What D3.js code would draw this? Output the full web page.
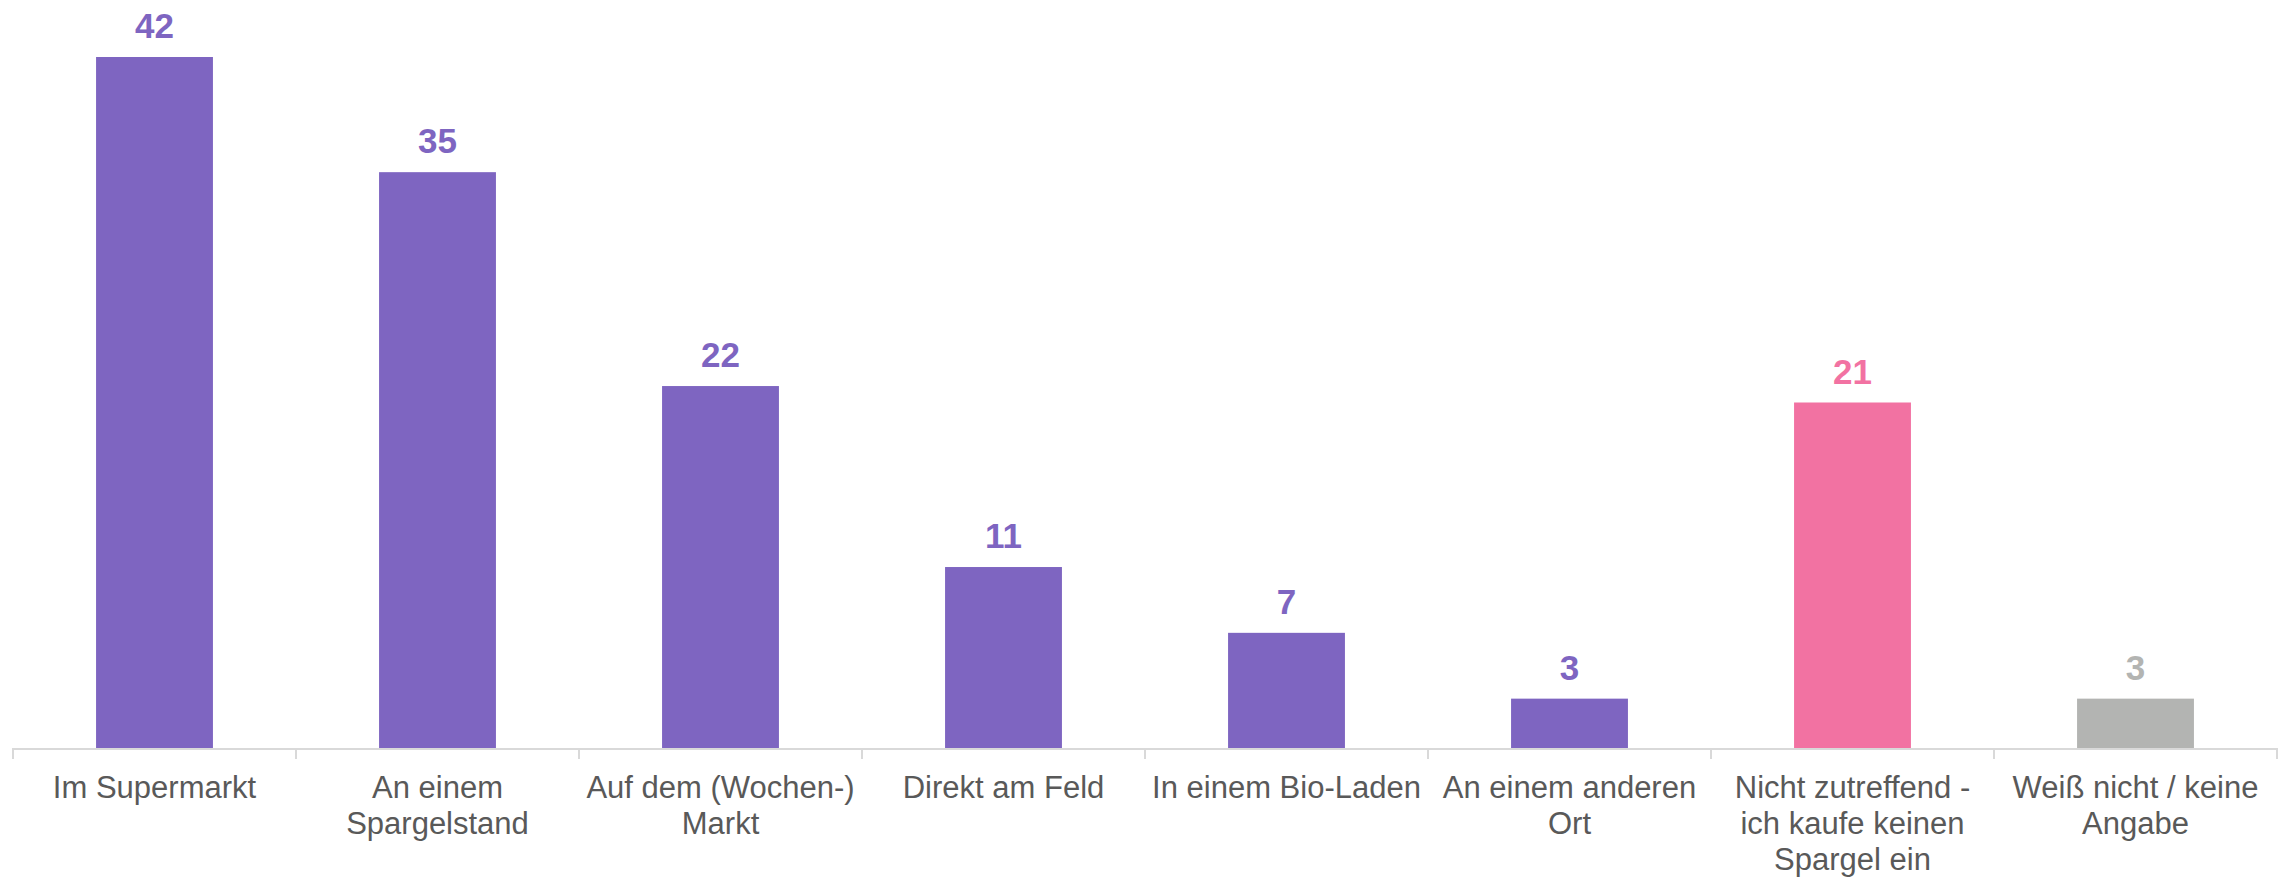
<!DOCTYPE html>
<html>
<head>
<meta charset="utf-8">
<script src="https://cdn.jsdelivr.net/npm/d3@7"></script>
<style>
  body { margin: 0; background: #fff; }
  svg text { font-family: "Liberation Sans", Arial, sans-serif; }
</style>
</head>
<body>
<div id="chart"></div>
<script>
// data
var categories = ["Im Supermarkt", "An einem Spargelstand", "Auf dem (Wochen-) Markt", "Direkt am Feld",
  "In einem Bio-Laden", "An einem anderen Ort", "Nicht zutreffend - ich kaufe keinen Spargel ein", "Weiß nicht / keine Angabe"];
var labelLines = [
  ["Im Supermarkt"],
  ["An einem", "Spargelstand"],
  ["Auf dem (Wochen-)", "Markt"],
  ["Direkt am Feld"],
  ["In einem Bio-Laden"],
  ["An einem anderen", "Ort"],
  ["Nicht zutreffend -", "ich kaufe keinen", "Spargel ein"],
  ["Weiß nicht / keine", "Angabe"]
];
var values = [42, 35, 22, 11, 7, 3, 21, 3];
var barColors = ["#7e65c1", "#7e65c1", "#7e65c1", "#7e65c1", "#7e65c1", "#7e65c1", "#f272a2", "#b3b4b2"];

var width = 2285, height = 878;
var margin = {top: 57, left: 13, right: 8, bottom: 130};

var svg = d3.select("#chart")
  .append("svg")
  .attr("width", width)
  .attr("height", height);

// x scale: one slot per category
var x = d3.scaleBand()
  .domain(categories)
  .range([margin.left, width - margin.right])
  .padding(0);

var y = d3.scaleLinear()
  .domain([0, 42])
  .range([height - margin.bottom, margin.top]);

var barW = x.bandwidth() * 0.413;

// bars
svg.selectAll("rect.bar")
  .data(values)
  .enter()
  .append("rect")
  .attr("class", "bar")
  .attr("x", (d, i) => x(categories[i]) + (x.bandwidth() - barW) / 2)
  .attr("y", d => y(d))
  .attr("width", barW)
  .attr("height", d => y(0) - y(d))
  .attr("fill", (d, i) => barColors[i]);

// value labels
svg.selectAll("text.val")
  .data(values)
  .enter()
  .append("text")
  .attr("class", "val")
  .attr("x", (d, i) => x(categories[i]) + x.bandwidth() / 2)
  .attr("y", d => y(d) - 19)
  .attr("text-anchor", "middle")
  .style("font-size", "35px")
  .style("font-weight", "bold")
  .attr("fill", (d, i) => barColors[i])
  .text(d => d);

// axis line + ticks at category boundaries
var axisY = y(0);
var axisG = svg.append("g").attr("stroke", "#d9d9d9").attr("stroke-width", 2);
axisG.append("line")
  .attr("x1", x.range()[0]).attr("x2", x.range()[1])
  .attr("y1", axisY + 1).attr("y2", axisY + 1);
var bounds = categories.map(c => x(c)).concat([x.range()[1]]);
axisG.selectAll("line.tick")
  .data(bounds)
  .enter()
  .append("line")
  .attr("class", "tick")
  .attr("x1", d => d).attr("x2", d => d)
  .attr("y1", axisY).attr("y2", axisY + 11);

// category labels
var lab = svg.selectAll("text.cat")
  .data(labelLines)
  .enter()
  .append("text")
  .attr("class", "cat")
  .attr("text-anchor", "middle")
  .attr("fill", "#595959")
  .style("font-size", "31px")
  .attr("transform", (d, i) => "translate(" + (x(categories[i]) + x.bandwidth() / 2) + "," + (axisY + 50) + ")");

lab.selectAll("tspan")
  .data(d => d)
  .enter()
  .append("tspan")
  .attr("x", 0)
  .attr("y", (d, j) => j * 36)
  .text(d => d);
</script>
</body>
</html>
